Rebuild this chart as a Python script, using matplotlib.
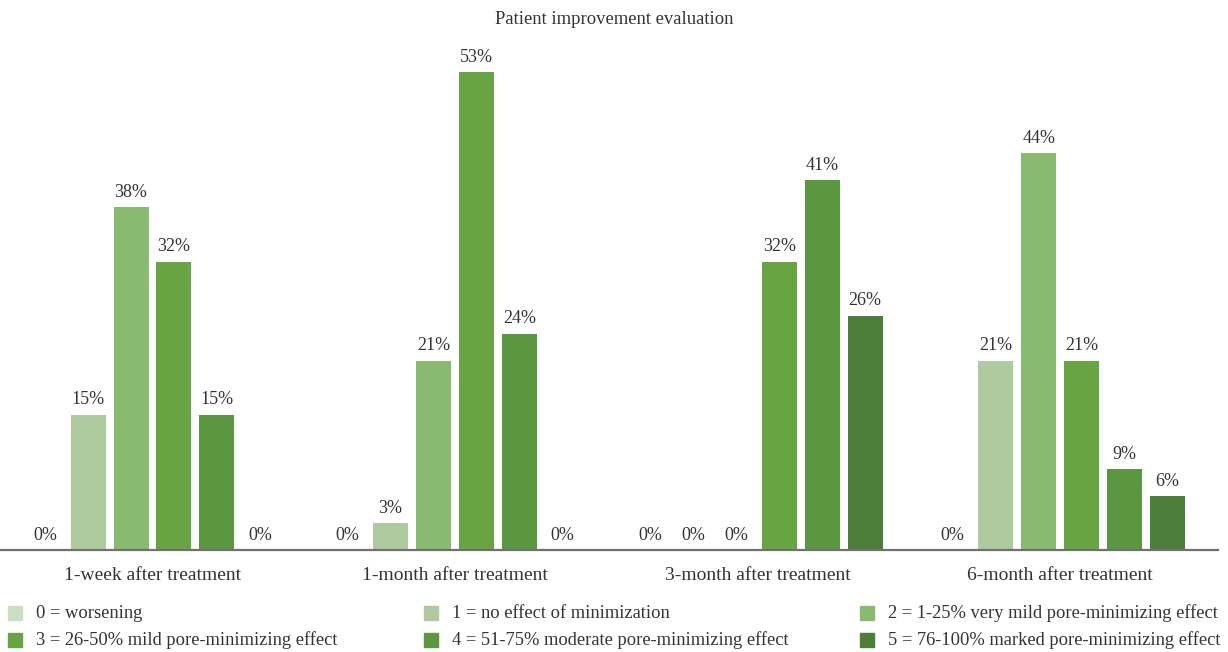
import numpy as np
import matplotlib.pyplot as plt
from matplotlib.patches import Rectangle

plt.rcParams['font.family'] = ['Liberation Serif', 'DejaVu Serif']

periods = ['1-week after treatment', '1-month after treatment',
           '3-month after treatment', '6-month after treatment']
scores = ['0 = worsening',
          '1 = no effect of minimization',
          '2 = 1-25% very mild pore-minimizing effect',
          '3 = 26-50% mild pore-minimizing effect',
          '4 = 51-75% moderate pore-minimizing effect',
          '5 = 76-100% marked pore-minimizing effect']
score0 = [0, 0, 0, 0]
score1 = [15, 3, 0, 21]
score2 = [38, 21, 0, 44]
score3 = [32, 53, 32, 21]
score4 = [15, 24, 41, 9]
score5 = [0, 0, 26, 6]
colors = ['#c9dfc0', '#adcb9e', '#88ba6f', '#68a542', '#5b9641', '#4e7d39']

series = [score0, score1, score2, score3, score4, score5]
txt = '#333333'

fig = plt.figure(figsize=(12.28, 6.52), dpi=100)
ax = fig.add_axes([0.0, 0.1564, 0.9915, 0.802])

x = np.arange(len(periods))
step = 0.142
width = 0.1156
for i, vals in enumerate(series):
    pos = x + (i - 2.5) * step
    bars = ax.bar(pos, vals, width, color=colors[i])
    for b, v in zip(bars, vals):
        ax.text(b.get_x() + b.get_width() / 2, v + 0.7, f'{v}%',
                ha='center', va='bottom', fontsize=13, color=txt)

ax.set_xlim(-0.504, 3.52)
ax.set_ylim(0, 58)
ax.set_yticks([])
for s in ['top', 'right', 'left']:
    ax.spines[s].set_visible(False)
ax.spines['bottom'].set_color('#707070')
ax.spines['bottom'].set_linewidth(1.6)
ax.set_xticks(x)
ax.set_xticklabels(periods, fontsize=14, color=txt)
ax.tick_params(axis='x', length=0, pad=12)

fig.text(0.5, 0.97, 'Patient improvement evaluation', ha='center', va='center',
         fontsize=13.4, color=txt)

# legend laid out row by row, three entries per row
col_x = [8, 424, 860]
row_y = [613, 640]
W, H = 1228, 652
for k, label in enumerate(scores):
    cx = col_x[k % 3]
    cy = row_y[k // 3]
    fig.patches.append(Rectangle((cx / W, (H - cy - 7) / H), 14 / W, 14 / H,
                                 transform=fig.transFigure, color=colors[k]))
    fig.text((cx + 28) / W, (H - cy) / H, label, ha='left', va='center',
             fontsize=13.3, color=txt)

fig.savefig('out.png', dpi=100)
